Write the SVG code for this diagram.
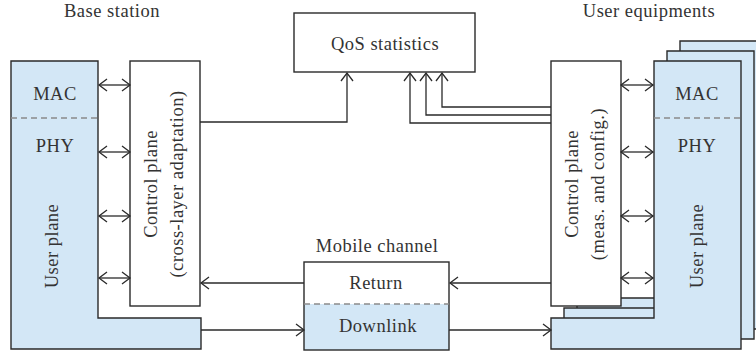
<svg xmlns="http://www.w3.org/2000/svg" width="756" height="353" viewBox="0 0 756 353">
<defs>
<marker id="ah" markerUnits="userSpaceOnUse" markerWidth="12" markerHeight="14" viewBox="0 0 12 14" refX="10" refY="7" orient="auto-start-reverse">
<path d="M2,1 L10,7 L2,13" fill="none" stroke="#2a2a2a" stroke-width="1.3"/>
</marker>
</defs>
<style>
.blue{fill:#d3e7f6;stroke:#2a2a2a;stroke-width:1.4}
.box{fill:#ffffff;stroke:#2a2a2a;stroke-width:1.4}
.dash{stroke:#8a8a8a;stroke-width:1.3;stroke-dasharray:6,4;fill:none}
.arr{fill:none;stroke:#2a2a2a;stroke-width:1.3;marker-end:url(#ah)}
.bi{fill:none;stroke:#2a2a2a;stroke-width:1.3;marker-start:url(#ah);marker-end:url(#ah)}
.t{font-size:18.5px;fill:#333333;text-anchor:middle;letter-spacing:0.5px}
</style>
<rect width="756" height="353" fill="#ffffff"/>
<g font-family="Liberation Serif, Times New Roman, serif">
<text class="t" x="112" y="17">Base station</text>
<text class="t" x="649" y="17">User equipments</text>
<g id="base-station">
<path class="blue" d="M11,61 H98 V318 H201 V349 H11 Z"/>
<line class="dash" x1="11" y1="118" x2="98" y2="118"/>
<text class="t" x="55" y="100">MAC</text>
<text class="t" x="55" y="152">PHY</text>
<text class="t" transform="translate(58,246) rotate(-90)">User plane</text>
</g>
<g id="bs-control-plane">
<rect class="box" x="130" y="61" width="70" height="245"/>
<text class="t" transform="translate(157,184) rotate(-90)">Control plane</text>
<text class="t" transform="translate(183,184) rotate(-90)">(cross-layer adaptation)</text>
</g>
<g id="qos-statistics">
<rect class="box" x="294" y="13" width="181" height="59"/>
<text class="t" x="385" y="50">QoS statistics</text>
</g>
<g id="mobile-channel">
<text class="t" x="377" y="252">Mobile channel</text>
<rect x="304" y="304" width="145" height="46" fill="#d3e7f6"/>
<rect x="304" y="262" width="145" height="88" fill="none" stroke="#2a2a2a" stroke-width="1.4"/>
<line class="dash" x1="304" y1="304" x2="449" y2="304"/>
<text class="t" x="376" y="289">Return</text>
<text class="t" x="378" y="332">Downlink</text>
</g>
<g id="user-equipments">
<path class="blue" d="M680,41 H767 V329 H577 V298 H680 Z"/>
<path class="blue" d="M667,51 H754 V339 H564 V308 H667 Z"/>
<path class="blue" d="M654,61 H741 V349 H551 V318 H654 Z"/>
<line class="dash" x1="654" y1="118" x2="741" y2="118"/>
<text class="t" x="697" y="100">MAC</text>
<text class="t" x="697" y="152">PHY</text>
<text class="t" transform="translate(703,246) rotate(-90)">User plane</text>
</g>
<g id="ue-control-plane">
<rect class="box" x="551" y="61" width="70" height="245"/>
<text class="t" transform="translate(578,184) rotate(-90)">Control plane</text>
<text class="t" transform="translate(604,184) rotate(-90)">(meas. and config.)</text>
</g>
</g>
<g id="connectors">
<line class="bi" x1="99" y1="85" x2="130" y2="85"/>
<line class="bi" x1="99" y1="152" x2="130" y2="152"/>
<line class="bi" x1="99" y1="216" x2="130" y2="216"/>
<line class="bi" x1="99" y1="278" x2="130" y2="278"/>
<line class="bi" x1="621" y1="85" x2="653" y2="85"/>
<line class="bi" x1="621" y1="152" x2="653" y2="152"/>
<line class="bi" x1="621" y1="216" x2="653" y2="216"/>
<line class="bi" x1="621" y1="278" x2="653" y2="278"/>
<path class="arr" d="M200,122 H347 V73"/>
<path class="arr" d="M551,123 H410 V73"/>
<path class="arr" d="M551,115 H426 V73"/>
<path class="arr" d="M551,107 H442 V73"/>
<line class="arr" x1="551" y1="283" x2="450" y2="283"/>
<line class="arr" x1="304" y1="283" x2="201" y2="283"/>
<line class="arr" x1="201" y1="330" x2="304" y2="330"/>
<line class="arr" x1="449" y1="330" x2="551" y2="330"/>
</g>
</svg>
